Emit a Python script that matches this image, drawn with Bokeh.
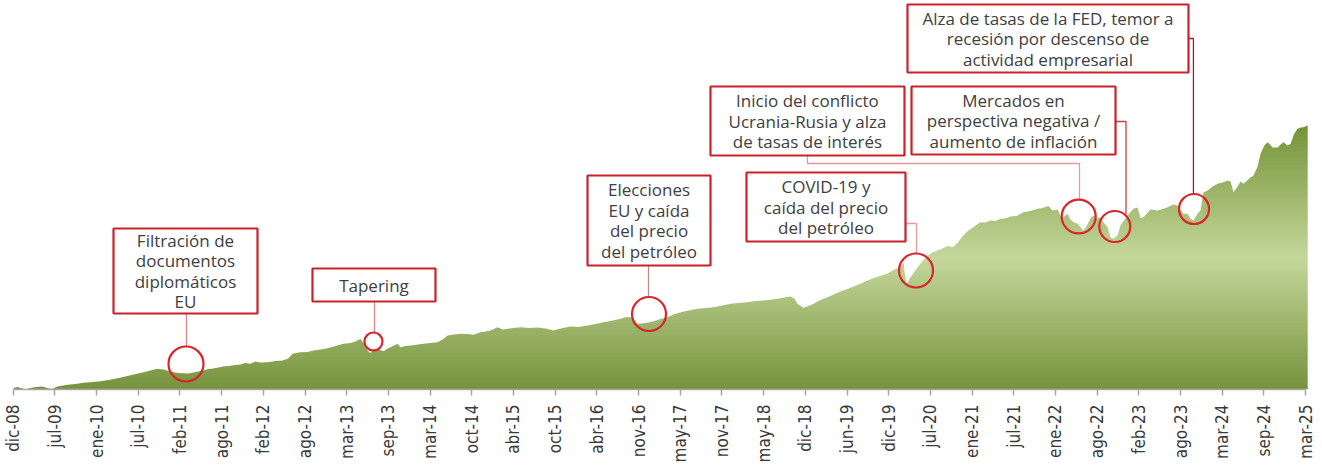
import math
from bokeh.plotting import figure
from bokeh.models import Range1d, FixedTicker
from bokeh.core.properties import value
from bokeh.embed import file_html
from bokeh.resources import INLINE

# ---------------- data ----------------
tick_labels = ["dic-08", "jul-09", "ene-10", "jul-10", "feb-11", "ago-11", "feb-12", "ago-12",
               "mar-13", "sep-13", "mar-14", "oct-14", "abr-15", "oct-15", "abr-16", "nov-16",
               "may-17", "nov-17", "may-18", "dic-18", "jun-19", "dic-19", "jul-20", "ene-21",
               "jul-21", "ene-22", "ago-22", "feb-23", "ago-23", "mar-24", "sep-24", "mar-25"]

# position along the axis (in tick periods) and index level (arbitrary units)
periodo = [0.01, 0.10, 0.22, 0.32, 0.41, 0.56, 0.70, 0.85, 0.94, 1.06, 1.30, 1.49, 1.69, 1.90,
           2.09, 2.29, 2.50, 2.69, 2.89, 3.13, 3.29, 3.46, 3.61, 3.73, 3.85, 3.97, 4.08, 4.20,
           4.32, 4.44, 4.56, 4.68, 4.80, 4.92, 5.04, 5.16, 5.28, 5.45, 5.57, 5.69, 5.81, 5.93,
           6.10, 6.29, 6.46, 6.60, 6.70, 6.89, 7.06, 7.20, 7.37, 7.54, 7.73, 7.92, 8.09, 8.21,
           8.33, 8.43, 8.50, 8.57, 8.64, 8.74, 8.88, 8.98, 9.05, 9.22, 9.29, 9.41, 9.53, 9.70,
           9.84, 10.01, 10.18, 10.30, 10.42, 10.56, 10.73, 10.90, 11.04, 11.21, 11.33, 11.45,
           11.62, 11.74, 11.86, 12.00, 12.17, 12.36, 12.58, 12.77, 12.96, 13.13, 13.37, 13.56,
           13.78, 13.97, 14.16, 14.38, 14.57, 14.71, 14.81, 14.88, 14.98, 15.12, 15.24, 15.36,
           15.53, 15.69, 15.84, 16.01, 16.20, 16.41, 16.61, 16.80, 17.01, 17.21, 17.40, 17.61,
           17.81, 18.00, 18.21, 18.41, 18.55, 18.65, 18.74, 18.81, 18.89, 18.96, 19.08, 19.20,
           19.36, 19.53, 19.68, 19.84, 20.04, 20.25, 20.44, 20.64, 20.80, 20.97, 21.16, 21.28,
           21.36, 21.39, 21.43, 21.52, 21.62, 21.76, 21.93, 22.05, 22.17, 22.29, 22.41, 22.55,
           22.65, 22.79, 22.91, 23.03, 23.20, 23.32, 23.44, 23.56, 23.68, 23.80, 23.92, 24.07,
           24.23, 24.40, 24.57, 24.69, 24.83, 24.93, 25.05, 25.12, 25.19, 25.29, 25.36, 25.43,
           25.53, 25.67, 25.74, 25.84, 25.91, 26.01, 26.08, 26.15, 26.25, 26.32, 26.39, 26.49,
           26.56, 26.66, 26.73, 26.87, 26.97, 27.04, 27.11, 27.28, 27.45, 27.59, 27.69, 27.83,
           27.93, 28.00, 28.07, 28.17, 28.24, 28.31, 28.41, 28.48, 28.55, 28.65, 28.77, 28.89,
           29.01, 29.13, 29.20, 29.27, 29.37, 29.44, 29.51, 29.68, 29.75, 29.85, 29.92, 30.01,
           30.09, 30.21, 30.33, 30.40, 30.47, 30.57, 30.64, 30.73, 30.81, 30.88, 30.95, 31.05]

nivel = [1.5, 2.5, 1.0, 0.3, 1.5, 2.5, 3.0, 1.0, 0.5, 3.0, 4.7, 5.5, 6.7, 7.5,
         8.3, 9.5, 11.3, 13.0, 15.0, 17.3, 19.0, 20.7, 20.0, 18.5, 17.3, 16.5, 16.3, 16.0,
         17.0, 18.0, 19.0, 20.5, 21.0, 22.0, 23.0, 23.5, 24.3, 25.0, 26.5, 25.7, 28.0, 27.0,
         27.3, 28.5, 29.0, 31.0, 35.7, 37.3, 37.5, 39.0, 40.0, 41.3, 43.5, 45.7, 46.5, 48.0,
         50.7, 45.0, 39.0, 36.3, 40.0, 40.7, 38.3, 41.0, 42.3, 45.7, 42.3, 43.5, 44.0, 45.0,
         45.7, 46.5, 47.3, 50.0, 54.0, 55.0, 55.7, 55.5, 54.7, 57.3, 58.0, 59.0,
         62.3, 60.0, 60.7, 61.5, 62.3, 61.5, 62.0, 61.0, 59.0, 61.0, 63.0, 62.5,
         64.0, 65.5, 67.3, 69.0, 70.7, 72.5, 72.3, 70.0, 65.7, 66.3, 67.0, 68.3,
         70.5, 72.3, 75.0, 77.3, 79.0, 80.7, 81.5, 82.3, 84.0, 85.7, 86.5, 87.3,
         88.5, 89.0, 90.0, 91.3, 92.5, 93.0, 91.0, 85.7, 83.5, 81.7, 83.5, 85.7,
         89.5, 92.3, 95.0, 98.0, 101.0, 104.5, 108.0, 111.5, 113.5, 116.0, 120.5, 122.5,
         127.3, 114.0, 105.5, 112.0, 118.0, 125.7, 134.0, 137.0, 139.0, 141.0, 143.5, 142.5,
         146.5, 154.0, 159.0, 162.3, 167.3, 167.0, 169.0, 168.5, 170.7, 171.0, 173.0, 173.5,
         177.3, 178.5, 180.7, 181.5, 183.5, 179.0, 180.0, 174.0, 172.3, 175.7, 170.0, 167.3,
         165.7, 159.0, 163.0, 171.0, 174.0, 171.0, 172.3, 167.3, 162.3, 152.3, 150.7, 154.0,
         164.0, 170.0, 174.0, 180.7, 182.0, 171.5, 172.3, 180.0, 179.0, 180.7, 182.3, 185.0,
         184.0, 180.0, 175.7, 175.7, 171.0, 169.0, 176.0, 179.0, 197.0, 199.0, 203.0, 205.7,
         207.0, 209.0, 208.0, 197.3, 203.0, 208.0, 205.7, 212.0, 214.0, 223.0, 235.7, 244.0,
         247.3, 242.0, 242.0, 245.0, 247.3, 244.0, 245.7, 256.0, 260.7, 262.0, 262.3, 264.0]

# annotations: (text lines, box centre x, box centre y, box w px, box h px)
anotaciones = [
    (["Filtración de", "documentos", "diplomáticos", "EU"], 4.133, 118.5, 144, 85),
    (["Tapering"], 8.654, 104.5, 123, 33),
    (["Elecciones", "EU y caída", "del precio", "del petróleo"], 15.251, 169.0, 123, 90),
    (["COVID-19 y", "caída del precio", "del petróleo"], 19.496, 182.5, 159, 69),
    (["Inicio del conflicto", "Ucrania-Rusia y alza", "de tasas de interés"], 19.052, 268.5, 194, 69),
    (["Mercados en", "perspectiva negativa /", "aumento de inflación"], 23.994, 269.0, 204, 68),
    (["Alza de tasas de la FED, temor a", "recesión por descenso de", "actividad empresarial"], 24.821, 351.0, 281, 68),
]
# event circles: centre x, centre y, diameter px
circ_x = [4.145, 8.642, 15.251, 21.655, 25.558, 26.423, 28.324]
circ_y = [25.5, 48.0, 75.5, 119.0, 173.0, 163.0, 180.5]
circ_d = [35, 18, 34, 34, 34, 31, 30]
# leader lines
lineas_x = [[4.157, 4.157], [8.666, 8.666], [15.239, 15.239],
            [21.403, 21.667, 21.667], [19.052, 19.052, 25.577, 25.577],
            [26.44, 26.692, 26.692], [28.19, 28.31, 28.31]]
lineas_y = [[76, 43], [88, 57], [124, 93],
            [166, 166, 136], [234, 226, 226, 190],
            [268, 268, 175], [351, 351, 195]]
lineas_c = ["#d9878c", "#d9878c", "#b98a8c", "#e39a9d", "#e39a9d", "#c9423f", "#8a2b2b"]

# ---------------- figure ----------------
PX_PER_TICK = 41.69
FW, FH = 1320, 389
t0 = -12.7 / PX_PER_TICK
t1 = t0 + FW / PX_PER_TICK

p = figure(frame_width=FW, frame_height=FH,
           x_range=Range1d(t0, t1), y_range=Range1d(0, FH),
           output_backend="svg", toolbar_location=None, y_axis_location=None,
           min_border_left=0, min_border_right=0, min_border_top=0, min_border_bottom=0,
           background_fill_color="white", border_fill_color="white",
           outline_line_color=None)
p.xgrid.visible = False
p.ygrid.visible = False

# gradient fill: horizontal bands, then white mask above the series
dark_b = (0x76, 0x93, 0x3c)
light = (0xc4, 0xd7, 0x9b)
dark_t = (0x74, 0x93, 0x38)
vmax = max(nivel)
vlight = vmax * 0.5
nb = 88
bh = vmax / nb
lefts, rights, bots, tops, cols = [], [], [], [], []
for i in range(nb):
    lo = i * bh
    hi = lo + bh
    c = (lo + hi) / 2
    if c <= vlight:
        f = c / vlight
        rgb = [dark_b[k] + (light[k] - dark_b[k]) * f for k in range(3)]
    else:
        f = (c - vlight) / (vmax - vlight)
        rgb = [light[k] + (dark_t[k] - light[k]) * f for k in range(3)]
    cols.append("#%02x%02x%02x" % tuple(int(round(v)) for v in rgb))
    lefts.append(periodo[0]); rights.append(periodo[-1])
    bots.append(lo); tops.append(hi + 0.6)
p.quad(left=lefts, right=rights, bottom=bots, top=tops, fill_color=cols, line_color=None)
mask_x = [t0] + periodo[:1] + periodo
mask_y = [0, 0] + nivel
p.varea(x=mask_x, y1=mask_y, y2=[FH] * len(mask_x), fill_color="white")

# leader lines
for xs, ys, c in zip(lineas_x, lineas_y, lineas_c):
    p.line(xs, ys, line_color=c, line_width=1.3)

# circles
p.scatter(circ_x, circ_y, size=circ_d, marker="circle", fill_alpha=0,
          line_color="#d9252b", line_width=2.2)

# boxes and texts
for lines, cx, cy, w, h in anotaciones:
    p.rect(cx, cy, width=w, height=h, width_units="screen", height_units="screen",
           fill_color="white", line_color="#c8232b", line_width=2.2)
    n = len(lines)
    ys = [cy - (i - (n - 1) / 2) * 20.5 for i in range(n)]
    p.text([cx] * n, ys, text=lines, text_align="center", text_baseline="middle",
           text_font=value("Open Sans"), text_font_size="17px", text_color="#404040")

# axis
ax = p.xaxis[0]
ax.ticker = FixedTicker(ticks=list(range(len(tick_labels))))
ax.bounds = (0, len(tick_labels) - 1)
ax.major_label_overrides = {i: lab for i, lab in enumerate(tick_labels)}
ax.major_label_orientation = math.pi / 2
ax.major_label_text_font = "DejaVu Sans Condensed"
ax.major_label_text_font_size = "17px"
ax.major_label_text_color = "#3a3a3a"
ax.axis_line_color = "#a6a6a6"
ax.axis_line_width = 1.5
ax.major_tick_line_color = "#a6a6a6"
ax.major_tick_line_width = 1.5
ax.major_tick_in = 0
ax.major_tick_out = 6
ax.minor_tick_line_color = None
ax.major_label_standoff = 9

open("out.html", "w").write(file_html(p, INLINE))
